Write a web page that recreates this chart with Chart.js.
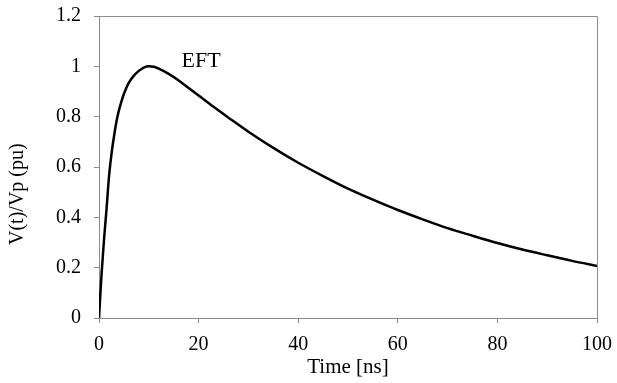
<!DOCTYPE html>
<html>
<head>
<meta charset="utf-8">
<script src="https://cdn.jsdelivr.net/npm/chart.js@4.4.1/dist/chart.umd.min.js"></script>
<style>
  html, body { margin: 0; padding: 0; background: #fff; }
  #wrap { width: 617px; height: 383px; }
</style>
</head>
<body>
<div id="wrap"><canvas id="eftChart"></canvas></div>
<script>
// values
var timeNs = [0, 0.5, 1, 1.5, 2, 2.5, 3, 3.5, 4, 4.5, 5, 5.5, 6, 7, 8, 9, 10, 11, 12, 14, 16, 18, 20, 23, 26, 30, 35, 40, 45, 50, 55, 60, 65, 70, 75, 80, 85, 90, 95, 100];
var voltPu = [0, 0.17, 0.31, 0.43, 0.56, 0.65, 0.72, 0.78, 0.825, 0.86, 0.89, 0.915, 0.935, 0.963, 0.982, 0.995, 1.0, 0.998, 0.991, 0.97, 0.944, 0.914, 0.884, 0.839, 0.796, 0.74, 0.676, 0.617, 0.564, 0.514, 0.47, 0.429, 0.392, 0.357, 0.327, 0.298, 0.272, 0.249, 0.227, 0.207];
var xTicks = [0, 20, 40, 60, 80, 100];
var yTicks = [0, 0.2, 0.4, 0.6, 0.8, 1, 1.2];
var seriesName = "EFT";
var labelAt = { x: 20.5, y: 1.02 };
var yTitle = "V(t)/Vp (pu)";

var axisGrey = "#8c8c8c";
var serif = "'Liberation Serif', 'Times New Roman', serif";

var points = timeNs.map(function(t, i) { return { x: t, y: voltPu[i] }; });

// frame on top and right, series label, y title (sits a bit low in the original)
var framePlugin = {
  id: "frame",
  afterDraw: function(chart) {
    var ctx = chart.ctx, a = chart.chartArea;
    ctx.save();
    ctx.strokeStyle = axisGrey;
    ctx.lineWidth = 1;
    ctx.beginPath();
    ctx.moveTo(a.left, a.top + 0.5);
    ctx.lineTo(a.right + 0.5, a.top + 0.5);
    ctx.lineTo(a.right + 0.5, a.bottom);
    ctx.stroke();
    var sx = chart.scales.x, sy = chart.scales.y;
    ctx.fillStyle = "#000";
    ctx.font = "22px " + serif;
    ctx.textAlign = "center";
    ctx.textBaseline = "middle";
    ctx.fillText(seriesName, sx.getPixelForValue(labelAt.x), sy.getPixelForValue(labelAt.y));
    ctx.font = "20px " + serif;
    ctx.translate(18, a.top + (a.bottom - a.top) * 0.59);
    ctx.rotate(-Math.PI / 2);
    ctx.fillText(yTitle, 0, 0);
    ctx.restore();
  }
};

new Chart(document.getElementById("eftChart"), {
  type: "line",
  data: {
    datasets: [{
      label: seriesName,
      data: points,
      borderColor: "#000",
      borderWidth: 2.5,
      pointRadius: 0,
      fill: false,
      cubicInterpolationMode: "monotone"
    }]
  },
  options: {
    responsive: true,
    maintainAspectRatio: false,
    animation: false,
    layout: { padding: { top: 16, right: 20, left: 0, bottom: 0 } },
    plugins: { legend: { display: false }, tooltip: { enabled: false } },
    scales: {
      x: {
        type: "linear",
        min: 0, max: 100,
        afterFit: function(s) { s.height = 65; s.paddingLeft = 0; s.paddingRight = 0; },
        afterBuildTicks: function(s) { s.ticks = xTicks.map(function(v) { return { value: v }; }); },
        grid: { drawOnChartArea: false, drawTicks: true, tickLength: 5, color: axisGrey },
        border: { color: axisGrey, width: 1 },
        ticks: { color: "#000", font: { family: serif, size: 20 }, padding: 10, maxRotation: 0,
                 callback: function(v) { return String(v); } },
        title: { display: true, text: "Time [ns]", color: "#000", font: { family: serif, size: 21 }, padding: { top: 0, bottom: 3 } }
      },
      y: {
        min: 0, max: 1.2,
        afterFit: function(s) { s.width = 99; s.paddingTop = 0; s.paddingBottom = 0; },
        afterBuildTicks: function(s) { s.ticks = yTicks.map(function(v) { return { value: v }; }); },
        grid: { drawOnChartArea: false, drawTicks: true, tickLength: 5, color: axisGrey },
        border: { color: axisGrey, width: 1 },
        ticks: { color: "#000", font: { family: serif, size: 20 }, padding: 13,
                 callback: function(v) { return String(Math.round(v * 10) / 10); } },
        title: { display: false }
      }
    }
  },
  plugins: [framePlugin]
});
</script>
</body>
</html>
